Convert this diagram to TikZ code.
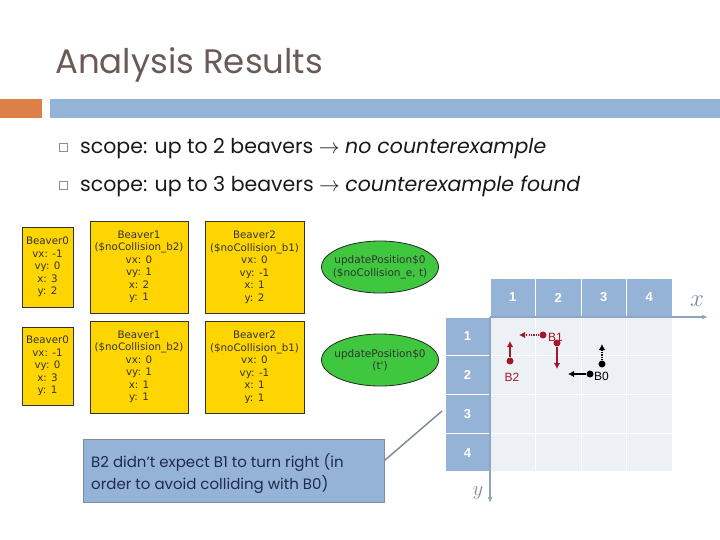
\documentclass[tikz,border=0pt]{standalone}
\usepackage{fontspec}
\setmainfont{Poppins}
\newfontfamily\boxfont{DejaVu Sans}
\newfontfamily\gridfont{Liberation Sans}
\usetikzlibrary{shapes.geometric,arrows.meta,calc}
\definecolor{hdr}{HTML}{95B3D7}
\definecolor{orng}{HTML}{DD8047}
\definecolor{cellbg}{HTML}{EDF0F5}
\definecolor{gold}{HTML}{FFD500}
\definecolor{ellg}{HTML}{3FC83F}
\definecolor{dred}{HTML}{A3172B}
\definecolor{navy}{HTML}{1F2B4D}
\definecolor{titlec}{HTML}{6B5B57}
\definecolor{axisc}{HTML}{8CA6C4}
\definecolor{linec}{HTML}{7F8C99}
\tikzset{
  ybox/.style={draw=black!80, line width=0.8pt, fill=gold, align=center, inner sep=0pt,
    font=\boxfont\fontsize{10.3}{12.5}\selectfont, text=black!80},
  ell/.style={ellipse, draw=black!85, line width=0.8pt, fill=ellg, inner sep=0pt,
    minimum width=117, minimum height=52},
  elltext/.style={align=center, inner sep=0pt, font=\boxfont\fontsize{10.5}{12.5}\selectfont, text=black!80},
  hcell/.style={fill=hdr, draw=white, line width=1pt, inner sep=0pt, text=white,
    font=\gridfont\bfseries\fontsize{13}{13}\selectfont},
  bcell/.style={fill=cellbg, draw=white, line width=1pt, inner sep=0pt, minimum width=45.5, minimum height=38.75},
  bullet/.style={draw=black!45, line width=0.6pt, minimum size=8.5, inner sep=0pt},
  btext/.style={anchor=base west, inner sep=0pt, font=\fontsize{20.5}{22}\selectfont, text=black!90},
  mv/.style={line width=2pt, -{Latex[length=6pt,width=6.5pt]}},
  mvd/.style={line width=2pt, dash pattern=on 1.2pt off 1.2pt, -{Latex[length=6pt,width=6.5pt]}},
  dot/.style={circle, inner sep=0pt, minimum size=7pt},
  blab/.style={inner sep=0pt, font=\gridfont\fontsize{12}{12}\selectfont}
}
\begin{document}
\begin{tikzpicture}[x=1pt,y=-1pt]
\useasboundingbox (0,0) rectangle (720,540);
% header bars
\fill[orng] (0,99) rectangle (42,118);
\fill[hdr] (50,99) rectangle (720,118);
\node[anchor=base west, inner sep=0pt, text=titlec, font=\fontsize{34}{36}\selectfont] (title) at (55,74) {Analysis Results};
% bullets
\node[bullet] (bul1) at (63.5,147.5) {};
\node[bullet] (bul2) at (63.5,185.5) {};
\node[btext] (t1) at (80,154) {scope: up to 2 beavers $\rightarrow$ \textit{no counterexample}};
\node[btext] (t2) at (80,192) {scope: up to 3 beavers $\rightarrow$ \textit{counterexample found}};
% row 1 instance
\node[ybox, minimum width=51, minimum height=80] (a0) at (47.5,267) {Beaver0\\vx: -1\\vy: 0\\x: 3\\y: 2};
\node[ybox, minimum width=98, minimum height=92] (a1) at (139,267) {Beaver1\\(\$noCollision\_b2)\\vx: 0\\vy: 1\\x: 2\\y: 1};
\node[ybox, minimum width=99, minimum height=92] (a2) at (254.5,267) {Beaver2\\(\$noCollision\_b1)\\vx: 0\\vy: -1\\x: 1\\y: 2};
\node[ell] (u1) at (380,267) {};
\node[elltext] (u1t) at (u1.center) {updatePosition\$0\\(\$noCollision\_e, t)};
% row 2 instance
\node[ybox, minimum width=51, minimum height=78] (c0) at (47.5,366) {Beaver0\\vx: -1\\vy: 0\\x: 3\\y: 1};
\node[ybox, minimum width=98, minimum height=92] (c1) at (139,367) {Beaver1\\(\$noCollision\_b2)\\vx: 0\\vy: 1\\x: 1\\y: 1};
\node[ybox, minimum width=99, minimum height=92] (c2) at (254.5,367) {Beaver2\\(\$noCollision\_b1)\\vx: 0\\vy: -1\\x: 1\\y: 1};
\node[ell] (u2) at (380,360) {};
\node[elltext] (u2t) at (u2.center) {updatePosition\$0\\(t')};
% grid
\foreach \i/\cx in {1/512.75,2/558.25,3/603.75,4/649.25}{
  \node[hcell, minimum width=45.5, minimum height=39] (h\i) at (\cx,297.5) {\i};
}
\foreach \j/\cy in {1/336.4,2/375.1,3/413.9,4/452.6}{
  \node[hcell, minimum width=45, minimum height=38.75] (r\j) at (467.5,\cy) {\j};
  \foreach \i/\cx in {1/512.75,2/558.25,3/603.75,4/649.25}{
    \node[bcell] (c\i\j) at (\cx,\cy) {};
  }
}
% axes
\coordinate (org) at (490,317);
\coordinate (xend) at (708,317);
\coordinate (yend) at (490,503);
\draw[axisc, line width=1.3pt, -{Latex[length=6pt,width=5pt]}] (org) -- (xend);
\draw[axisc, line width=1.3pt, -{Latex[length=6pt,width=5pt]}] (org) -- (yend);
\node[text=axisc!85!black, inner sep=0pt, font=\fontsize{27}{27}\selectfont] (xl) at (697,301) {$x$};
\node[text=axisc!85!black, inner sep=0pt, font=\fontsize{22}{22}\selectfont] (yl) at (478,493) {$y$};
% beavers in grid
\node[dot, fill=dred] (b1d) at (543,335) {};
\coordinate (b1dt) at (519,335);
\draw[mvd, dred] (b1d) -- (b1dt);
\node[blab, text=dred, anchor=west] (b1l) at (548,337) {B1};
\node[dot, fill=dred] (b1s) at (557,343) {};
\coordinate (b1st) at (557,369);
\draw[mv, dred] (b1s) -- (b1st);
\node[dot, fill=dred] (b2s) at (510,361) {};
\coordinate (b2st) at (510,341);
\draw[mv, dred] (b2s) -- (b2st);
\node[blab, text=dred] (b2l) at (512,377) {B2};
\node[dot, fill=black] (b0d) at (602,364) {};
\coordinate (b0dt) at (602,344);
\draw[mvd, black] (b0d) -- (b0dt);
\node[dot, fill=black] (b0s) at (590,374) {};
\coordinate (b0st) at (568,374);
\draw[mv, black] (b0s) -- (b0st);
\node[blab, text=black, anchor=west] (b0l) at (594,376) {B0};
% callout
\node[fill=hdr, draw=linec, line width=1pt, minimum width=301, minimum height=63, inner sep=0pt] (callout) at (233.5,470.5) {};
\node[anchor=north west, align=left, inner sep=0pt, text=navy, font=\fontsize{15}{22}\selectfont] (ctext) at (91,453) {B2 didn’t expect B1 to turn right (in\\order to avoid colliding with B0)};
\coordinate (ptr) at (442,411);
\draw[linec, line width=1.5pt] ([yshift=10pt]callout.east) -- (ptr);
\end{tikzpicture}
\end{document}
